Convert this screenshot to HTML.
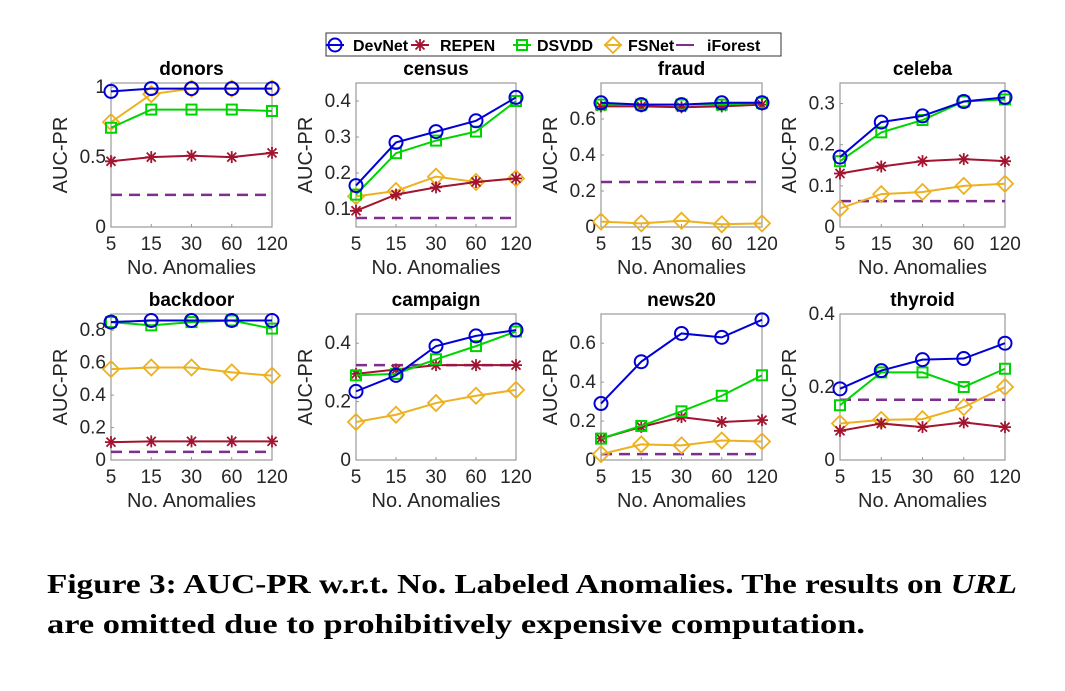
<!DOCTYPE html>
<html><head><meta charset="utf-8">
<style>
body{margin:0;background:#fff;}
svg{display:block;font-family:"Liberation Sans","DejaVu Sans",sans-serif;}
</style></head>
<body>
<svg id="fig" width="1065" height="691" viewBox="0 0 1065 691" xmlns="http://www.w3.org/2000/svg">
<rect width="1065" height="691" fill="#fff"/>
<g id="legend"></g>
<g id="panels"></g>
<text x="47" y="593" font-family="'Liberation Serif',serif" font-weight="bold" font-size="27" textLength="970" lengthAdjust="spacingAndGlyphs" fill="#000">Figure 3: AUC-PR w.r.t. No. Labeled Anomalies. The results on <tspan font-style="italic">URL</tspan></text>
<text x="47" y="633" font-family="'Liberation Serif',serif" font-weight="bold" font-size="27" textLength="818" lengthAdjust="spacingAndGlyphs" fill="#000">are omitted due to prohibitively expensive computation.</text>
</svg>
<script>
const categories = ["5","15","30","60","120"];
const seriesNames = ["DevNet","REPEN","DSVDD","FSNet","iForest"];
const datasets = ["donors","census","fraud","celeba","backdoor","campaign","news20","thyroid"];
const devnet = [[0.97,0.99,0.99,0.99,0.99],[0.165,0.285,0.315,0.345,0.41],[0.69,0.68,0.68,0.69,0.69],[0.17,0.255,0.27,0.305,0.315],[0.85,0.86,0.86,0.86,0.86],[0.235,0.29,0.39,0.425,0.445],[0.29,0.505,0.65,0.63,0.72],[0.195,0.245,0.275,0.278,0.32]];
const repen = [[0.47,0.50,0.51,0.50,0.53],[0.095,0.14,0.16,0.175,0.185],[0.67,0.67,0.665,0.67,0.68],[0.13,0.147,0.16,0.165,0.16],[0.11,0.115,0.115,0.115,0.115],[0.295,0.31,0.325,0.325,0.325],[0.11,0.17,0.22,0.195,0.205],[0.08,0.1,0.09,0.103,0.09]];
const dsvdd = [[0.71,0.84,0.84,0.84,0.83],[0.14,0.255,0.29,0.315,0.40],[0.68,0.68,0.68,0.68,0.69],[0.16,0.23,0.26,0.305,0.31],[0.85,0.83,0.85,0.86,0.81],[0.29,0.295,0.345,0.39,0.44],[0.11,0.175,0.25,0.33,0.435],[0.15,0.24,0.24,0.2,0.25]];
const fsnet = [[0.75,0.95,0.99,0.99,0.99],[0.135,0.15,0.19,0.175,0.185],[0.03,0.02,0.035,0.015,0.02],[0.045,0.08,0.085,0.1,0.105],[0.56,0.57,0.57,0.54,0.52],[0.13,0.155,0.195,0.22,0.24],[0.03,0.08,0.075,0.1,0.095],[0.1,0.11,0.112,0.145,0.2]];
const iforest = [0.23,0.075,0.25,0.063,0.05,0.325,0.03,0.165];
const yMin = [0,0.05,0,0,0,0,0,0];
const yMax = [1.03,0.45,0.8,0.35,0.9,0.5,0.75,0.4];
const yTicks = [["0","0.5","1"],["0.1","0.2","0.3","0.4"],["0","0.2","0.4","0.6"],["0","0.1","0.2","0.3"],["0","0.2","0.4","0.6","0.8"],["0","0.2","0.4"],["0","0.2","0.4","0.6"],["0","0.2","0.4"]];

const NS="http://www.w3.org/2000/svg";
const colors={DevNet:"#0000d6",REPEN:"#a2142f",DSVDD:"#00d400",FSNet:"#edb120",iForest:"#7e2f8e"};
function mk(tag,attrs,parent){const e=document.createElementNS(NS,tag);for(const k in attrs)e.setAttribute(k,attrs[k]);parent.appendChild(e);return e;}
function marker(name,x,y,g){
  const c=colors[name];
  if(name==="DevNet"){return mk("circle",{cx:x,cy:y,r:6.5,fill:"none",stroke:c,"stroke-width":2},g);}
  if(name==="DSVDD"){return mk("rect",{x:x-5,y:y-5,width:10,height:10,fill:"none",stroke:c,"stroke-width":2},g);}
  if(name==="FSNet"){return mk("path",{d:`M${x},${y-8}L${x+8},${y}L${x},${y+8}L${x-8},${y}Z`,fill:"none",stroke:c,"stroke-width":1.8},g);}
  if(name==="REPEN"){return mk("path",{d:`M${x-6},${y}H${x+6}M${x},${y-6}V${y+6}M${x-4.5},${y-4.5}L${x+4.5},${y+4.5}M${x-4.5},${y+4.5}L${x+4.5},${y-4.5}`,stroke:c,"stroke-width":1.8},g);}
}
const lg=document.getElementById("legend");
const lb=mk("rect",{x:326,y:33,width:455,height:23,fill:"#fff",stroke:"#333","stroke-width":1},lg);


const legPos=[[335,353],[420,440],[522,537],[613,628],[685,707]];
seriesNames.forEach((n,i)=>{
  const g=mk("g",{},lg);
  
  
  const [mx,tx]=legPos[i];
  mk("line",{x1:mx-9,y1:45,x2:mx+9,y2:45,stroke:colors[n],"stroke-width":2},g);
  if(n!=="iForest")marker(n,mx,45,g);
  const t=mk("text",{x:tx,y:51,"font-size":16,"font-weight":"bold",fill:"#000"},g);t.textContent=n;
});
const colL=[111,356,601,840], colR=[272,516,762,1005];
const rowT=[83,314], rowB=[227,460];
const allSeries=[devnet,repen,dsvdd,fsnet];
const pg=document.getElementById("panels");
datasets.forEach((ds,p)=>{
  const r=Math.floor(p/4), c=p%4;
  const L=colL[c],R=colR[c],T=rowT[r],B=rowB[r];
  const g=mk("g",{},pg);
  
  
  const X=i=>L+(R-L)*i/(categories.length-1);
  const Y=v=>B-(B-T)*(v-yMin[p])/(yMax[p]-yMin[p]);
  mk("rect",{x:L,y:T,width:R-L,height:B-T,fill:"#fff",stroke:"#999","stroke-width":1.2},g);
  const tt=mk("text",{x:(L+R)/2,y:T-8,"text-anchor":"middle","font-size":19,"font-weight":"bold",fill:"#000"},g);tt.textContent=ds;
  
  
  categories.forEach((cat,i)=>{
    const t=mk("text",{x:X(i),y:B+23,"text-anchor":"middle","font-size":19,fill:"#262626"},g);t.textContent=cat;
    mk("line",{x1:X(i),y1:B,x2:X(i),y2:B-3,stroke:"#999"},g);
  });
  yTicks[p].forEach(s=>{
    const v=parseFloat(s);
    const t=mk("text",{x:L-5,y:Y(v)+6,"text-anchor":"end","font-size":19,fill:"#262626"},g);t.textContent=s;
    mk("line",{x1:L,y1:Y(v),x2:L+3,y2:Y(v),stroke:"#999"},g);
  });
  const xl=mk("text",{x:(L+R)/2,y:B+47,"text-anchor":"middle","font-size":20,fill:"#262626"},g);xl.textContent="No. Anomalies";
  
  
  const yx=L-44, yy=(T+B)/2;
  const yl=mk("text",{x:yx,y:yy,"text-anchor":"middle","font-size":20,fill:"#262626",transform:`rotate(-90 ${yx} ${yy})`},g);yl.textContent="AUC-PR";
  
  
  const fl=mk("line",{x1:L,y1:Y(iforest[p]),x2:R,y2:Y(iforest[p]),stroke:colors.iForest,"stroke-width":2.5,"stroke-dasharray":"11,7"},g);
  
  
  [3,1,2,0].forEach(si=>{
    const name=seriesNames[si]; const vals=allSeries[si][p];
    const sg=mk("g",{},g);
    
    
    mk("polyline",{points:vals.map((v,i)=>X(i)+","+Y(v)).join(" "),fill:"none",stroke:colors[name],"stroke-width":2},sg);
    vals.forEach((v,i)=>marker(name,X(i),Y(v),sg));
  });
});
</script>
</body></html>
